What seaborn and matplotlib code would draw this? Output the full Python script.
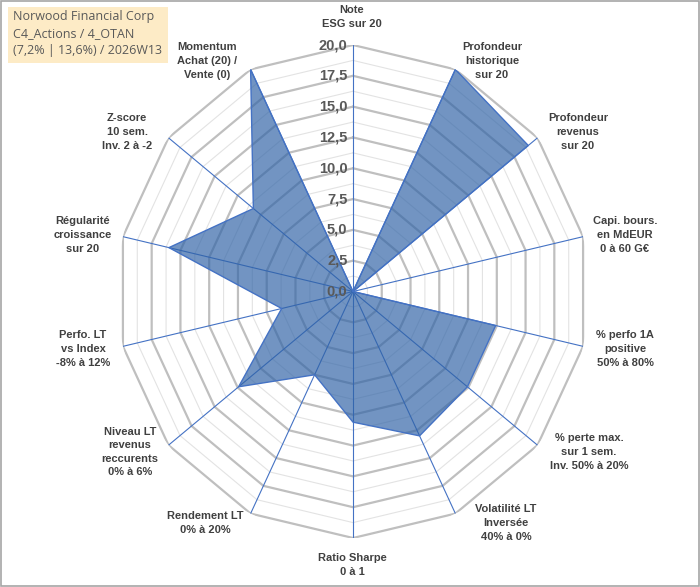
import numpy as np
import pandas as pd
import matplotlib
matplotlib.use("Agg")
import matplotlib.pyplot as plt
import seaborn as sns

# Axes of the radar, clockwise from the top
axis_labels = [
    "Note\nESG sur 20",
    "Profondeur\nhistorique\nsur 20",
    "Profondeur\nrevenus\nsur 20",
    "Capi. bours.\nen MdEUR\n0 à 60 G€",
    "% perfo 1A\npositive\n50% à 80%",
    "% perte max.\nsur 1 sem.\nInv. 50% à 20%",
    "Volatilité LT\nInversée\n40% à 0%",
    "Ratio Sharpe\n0 à 1",
    "Rendement LT\n0% à 20%",
    "Niveau LT\nrevenus\nreccurents\n0% à 6%",
    "Perfo. LT\nvs Index\n-8% à 12%",
    "Régularité\ncroissance\nsur 20",
    "Z-score\n10 sem.\nInv. 2 à -2",
    "Momentum\nAchat (20) /\nVente (0)",
]
scores = [0, 20, 19.0, 0, 12.4, 12.4, 13.0, 10.6, 7.5, 12.4, 6.2, 16.0, 10.8, 20]
radial_ticks = [0, 2.5, 5, 7.5, 10, 12.5, 15, 17.5, 20]
title_lines = ["Norwood Financial Corp", "C4_Actions / 4_OTAN", "(7,2% | 13,6%) / 2026W13"]

# label centres in figure pixels (layout only)
label_pos = [(352, 17), (492, 61), (578, 132), (625, 235), (625, 349), (589, 452),
             (506, 523), (352, 565), (205, 523), (130, 452), (83, 349), (83, 235),
             (127, 132), (207, 61)]

n = len(axis_labels)
df = pd.DataFrame({"label": axis_labels, "score": scores})
df["theta"] = np.arange(n) * 2 * np.pi / n
closed = pd.concat([df, df.iloc[:1]], ignore_index=True)

sns.set_theme(style="white")
plt.rcParams["font.family"] = ["Liberation Sans", "DejaVu Sans"]

W, H = 700, 587
fig = plt.figure(figsize=(W / 100, H / 100), dpi=100)
cx, cy, rx, ry = 353, 291.5, 236, 246.5
ax = fig.add_axes([(cx - rx) / W, (H - cy - ry) / H, 2 * rx / W, 2 * ry / H], projection="polar")
ax.set_aspect("auto")
ax.set_theta_zero_location("N")
ax.set_theta_direction(-1)
ax.set_ylim(0, 20)
ax.grid(False)
ax.set_xticks([])
ax.set_yticks([])
ax.spines["polar"].set_visible(False)
ax.set_facecolor("none")

thetas = closed["theta"].values
# polygonal grid (minor then major)
for r in np.arange(1.25, 20, 2.5):
    ax.plot(thetas, [r] * len(thetas), color="#E3E3E3", lw=0.8, zorder=1)
for r in radial_ticks[1:]:
    ax.plot(thetas, [r] * len(thetas), color="#BFBFBF", lw=1.6, zorder=1)
# spokes
for t in df["theta"]:
    ax.plot([t, t], [0, 20], color="#4472C4", lw=0.8, zorder=2)

ax.fill(closed["theta"], closed["score"], color="#2F62A6", alpha=0.68, lw=0, zorder=3)
sns.lineplot(data=closed, x="theta", y="score", sort=False, ax=ax, color="#4472C4",
             lw=1.0, zorder=4, estimator=None)
ax.set_xlabel("")
ax.set_ylabel("")

for r in radial_ticks:
    ax.annotate(f"{r:.1f}".replace(".", ","), xy=(0, r), xytext=(-4, 0),
                textcoords="offset points", ha="right", va="center",
                fontsize=10.5, fontweight="bold", color="#595959", zorder=5)

for lab, (px, py) in zip(axis_labels, label_pos):
    fig.text(px / W, 1 - py / H, lab, ha="center", va="center", fontsize=8,
             fontweight="bold", color="#404040", linespacing=1.45)

fig.patches.append(plt.Rectangle((8 / W, 1 - 63 / H), 160 / W, 56 / H,
                                 transform=fig.transFigure, facecolor="#FDEBC6",
                                 edgecolor="none", zorder=0))
fig.text(13 / W, 1 - 10 / H, "\n".join(title_lines), ha="left", va="top",
         fontsize=9, color="#595959", linespacing=1.4,
         family=["Open Sans", "DejaVu Sans"])

fig.patches.append(plt.Rectangle((1 / W, 1 / H), (W - 2) / W, (H - 2) / H,
                                 transform=fig.transFigure, facecolor="none",
                                 edgecolor="#A6A6A6", lw=1.2))

fig.savefig("out.png", dpi=100)
